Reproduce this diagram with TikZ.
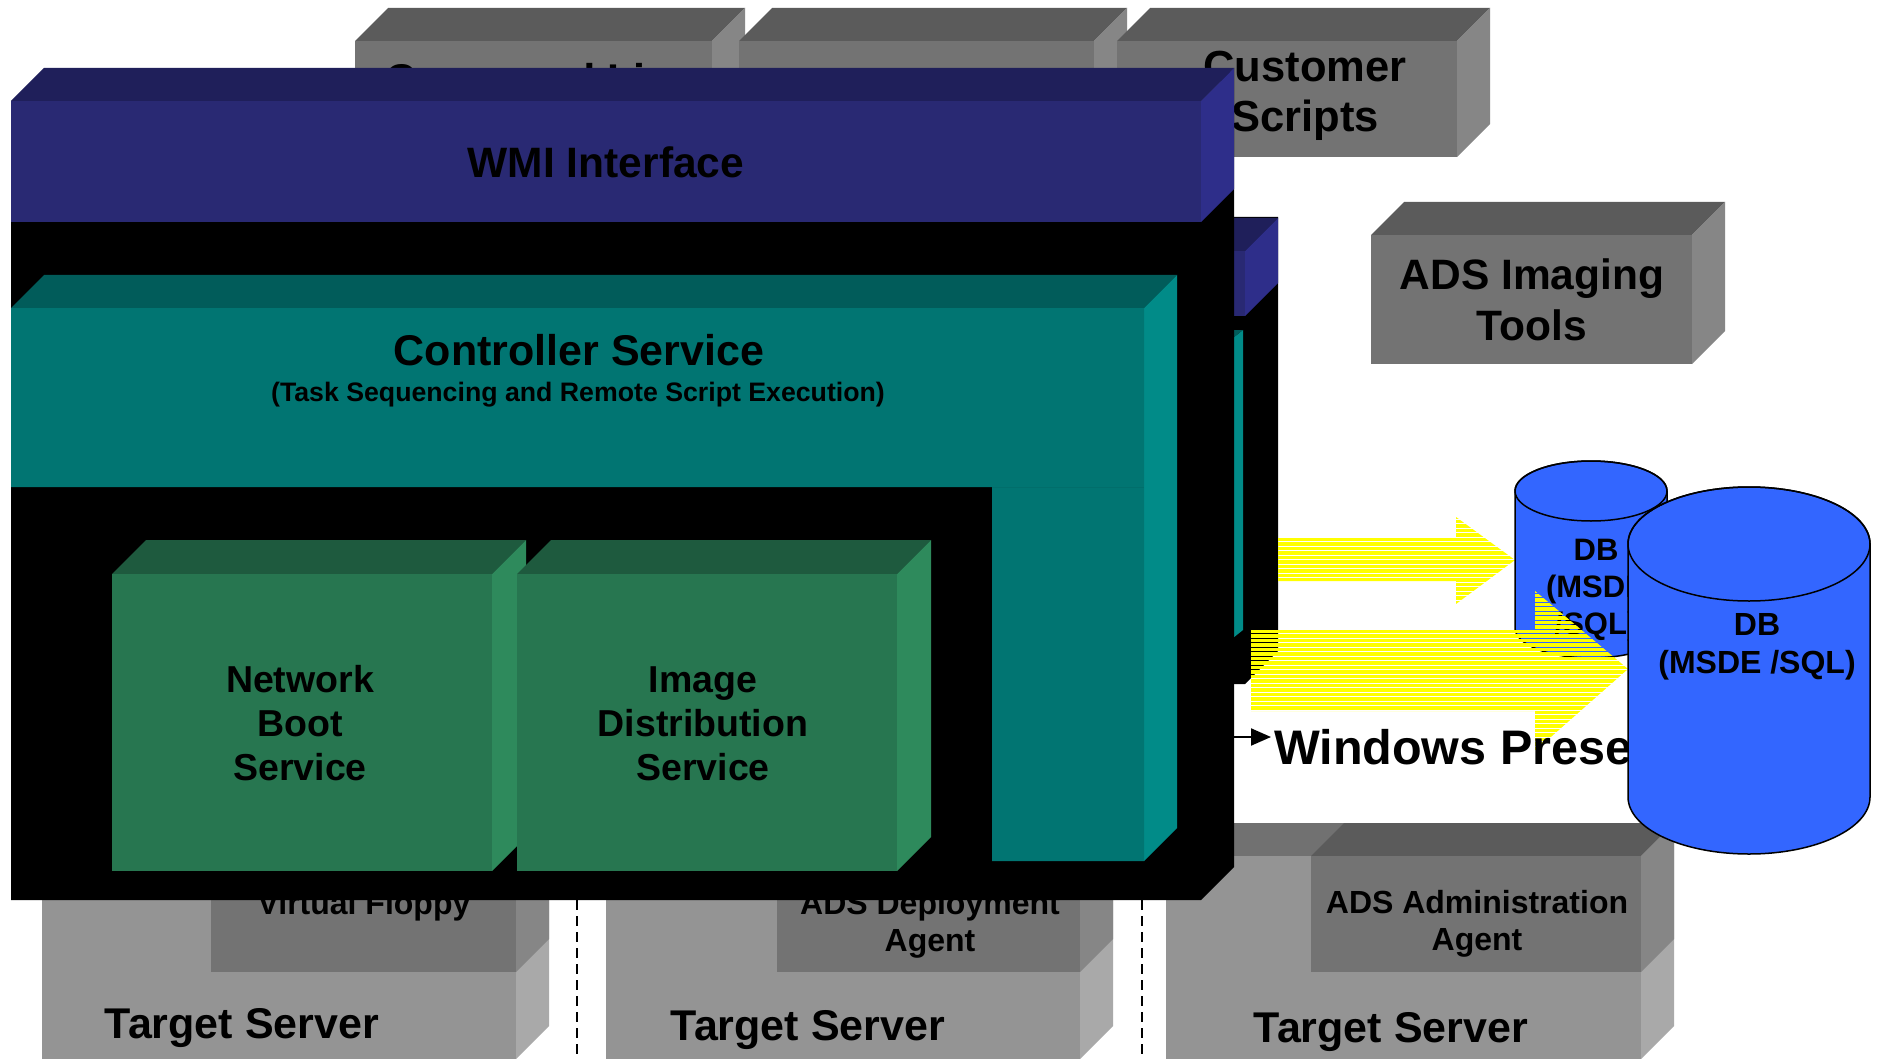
\documentclass[tikz,border=0pt]{standalone}
\usepackage{fontspec}
\setmainfont{Liberation Sans}
\usetikzlibrary{arrows.meta}
\definecolor{boxF}{HTML}{737373}
\definecolor{boxT}{HTML}{5B5B5B}
\definecolor{boxS}{HTML}{868686}
\definecolor{tsF}{HTML}{949494}
\definecolor{tsT}{HTML}{717171}
\definecolor{tsS}{HTML}{A9A9A9}
\definecolor{wmiF}{HTML}{292973}
\definecolor{wmiT}{HTML}{1F1F5A}
\definecolor{wmiS}{HTML}{2E2E8A}
\definecolor{tealF}{HTML}{017572}
\definecolor{tealT}{HTML}{015C5A}
\definecolor{tealS}{HTML}{018B88}
\definecolor{tealL}{HTML}{016E6B}
\definecolor{grnF}{HTML}{277650}
\definecolor{grnT}{HTML}{1E5A3E}
\definecolor{grnS}{HTML}{2E8A5C}
\definecolor{dbblue}{HTML}{3366FF}
\definecolor{ylw}{HTML}{FFFF00}
\newcommand\fsz[2]{\fontsize{#1}{#2}\selectfont}
\newcommand\ml[1]{\begin{tabular}[t]{@{}c@{}}#1\end{tabular}}
% 3D box: x1,y1,x2,y2 (front face), depth, front, top, side colours
\newcommand\cube[8]{%
  \fill[#7] (#1,#2) -- ({#1+#5},{#2-#5}) -- ({#3+#5},{#2-#5}) -- (#3,#2) -- cycle;
  \fill[#8] (#3,#2) -- ({#3+#5},{#2-#5}) -- ({#3+#5},{#4-#5}) -- (#3,#4) -- cycle;
  \fill[#6] (#1,#2) rectangle (#3,#4);}
% cylinder: cx, rx, y top centre, y bottom centre, ry
\newcommand\cyl[5]{%
  \filldraw[fill=dbblue, draw=black, line width=1.5pt]
    ({#1-#2},#3) -- ({#1-#2},#4)
    arc[start angle=180, end angle=360, x radius=#2pt, y radius=#5pt]
    -- ({#1+#2},#3)
    arc[start angle=0, end angle=180, x radius=#2pt, y radius=#5pt] -- cycle;
  \draw[black, line width=1.5pt] (#1,#3) ellipse[x radius=#2pt, y radius=#5pt];}
\begin{document}
\begin{tikzpicture}[x=1pt,y=-1pt,
  lbl/.style={inner sep=0pt, text=black},
  sepline/.style={draw=black, line width=2pt, dash pattern=on 10pt off 6pt}]
\useasboundingbox (0,0) rectangle (1881,1059);
\fill[white] (0,0) rectangle (1881,1059);

% ---------- top grey boxes ----------
\cube{355}{41}{712}{160}{33}{boxF}{boxT}{boxS}
\node[lbl, font=\fsz{43}{51}\bfseries, anchor=base west] (cmd) at (385,95) {Command Line};
\cube{739}{41}{1094}{157}{33}{boxF}{boxT}{boxS}
\cube{1117}{41}{1457}{157}{33}{boxF}{boxT}{boxS}
\node[lbl, font=\fsz{43.5}{50}\bfseries, anchor=base] (cust) at (1305,82) {\ml{Customer\\Scripts}};

% ---------- ADS Imaging Tools ----------
\cube{1371}{235}{1692}{364}{33}{boxF}{boxT}{boxS}
\node[lbl, font=\fsz{42.5}{51}\bfseries, anchor=base] (imag) at (1532,290) {\ml{ADS Imaging\\Tools}};

% ---------- target servers ----------
\cube{42}{856}{516}{1059}{33}{tsF}{tsT}{tsS}
\cube{211}{856}{516}{972}{33}{boxF}{boxT}{boxS}
\node[lbl, font=\fsz{32}{37}\bfseries, anchor=base] (vf) at (364,914) {Virtual Floppy};
\node[lbl, font=\fsz{43}{50}\bfseries, anchor=base] (ts1) at (242,1038) {Target Server};

\cube{606}{856}{1080}{1059}{33}{tsF}{tsT}{tsS}
\cube{777}{856}{1080}{972}{33}{boxF}{boxT}{boxS}
\node[lbl, font=\fsz{32}{37}\bfseries, anchor=base] (dep) at (930,914) {\ml{ADS Deployment\\Agent}};
\node[lbl, font=\fsz{43}{50}\bfseries, anchor=base] (ts2) at (808,1040) {Target Server};

\cube{1166}{856}{1641}{1059}{33}{tsF}{tsT}{tsS}
\cube{1311}{856}{1641}{972}{33}{boxF}{boxT}{boxS}
\node[lbl, font=\fsz{32}{37}\bfseries, anchor=base] (adm) at (1477,913) {\ml{ADS Administration\\Agent}};
\node[lbl, font=\fsz{43}{50}\bfseries, anchor=base] (ts3) at (1391,1042) {Target Server};

\coordinate (d1a) at (577,900); \coordinate (d1b) at (577,1059);
\coordinate (d2a) at (1142,900); \coordinate (d2b) at (1142,1059);
\draw[sepline] (d1a) -- (d1b);
\draw[sepline] (d2a) -- (d2b);

% ---------- back stack (second layer) ----------
\fill[black] (1200,250) -- (1233,217) -- (1278,217) -- (1278,651) -- (1245,684) -- (1200,684) -- cycle;
\fill[wmiT] (1200,251) -- (1233,218) -- (1278,218) -- (1245,251) -- cycle;
\fill[wmiS] (1245,251) -- (1278,218) -- (1278,283) -- (1245,316) -- cycle;
\fill[wmiF] (1200,251) rectangle (1245,316);
\fill[tealS] (1233,338) -- (1243,330) -- (1243,630) -- (1233,638) -- cycle;
\fill[tealT] (1233,330) -- (1243,330) -- (1233,338) -- cycle;

% ---------- yellow arrow 1 ----------
\begin{scope}
  \clip (1278,537) -- (1456,537) -- (1456,517) -- (1515,560) -- (1456,604) -- (1456,581) -- (1278,581) -- cycle;
  \foreach \yy in {515,519.5,...,608} {\fill[ylw] (1270,\yy) rectangle (1520,{\yy+3.6});}
\end{scope}

% ---------- small DB ----------
\cyl{1591}{76}{491}{628}{30}
\node[lbl, font=\fsz{31}{37}\bfseries, anchor=base] (db1) at (1596,560) {\ml{DB\\(MSDE\\/SQL)}};

% ---------- yellow arrow 2 ----------
\begin{scope}
  \clip (1251,630) -- (1535,630) -- (1535,591) -- (1628,669) -- (1535,751) -- (1535,711) -- (1251,711) -- cycle;
  \foreach \yy in {589,593.5,...,755} {\fill[ylw] (1245,\yy) rectangle (1635,{\yy+3.6});}
\end{scope}

% ---------- Windows text ----------
\node[lbl, font=\fsz{48.5}{56}\bfseries, anchor=base west] (win) at (1274,764) {Windows Prese};

% ---------- big DB ----------
\cyl{1749}{121}{544}{797}{57}
\node[lbl, font=\fsz{32}{38}\bfseries, anchor=base] (db2) at (1757,635) {\ml{DB\\(MSDE /SQL)}};

% ---------- main black box ----------
\fill[black] (11,101) -- (1201,101) -- (1234,68) -- (1234,867) -- (1201,900) -- (11,900) -- cycle;

% WMI interface
\cube{11}{101}{1201}{222}{33}{wmiF}{wmiT}{wmiS}
\node[lbl, font=\fsz{42.5}{50}\bfseries, anchor=base] (wmi) at (606,178) {WMI Interface};

% controller service (L shape)
\fill[tealT] (11,308) -- (44,275) -- (1177,275) -- (1144,308) -- cycle;
\fill[tealS] (1144,308) -- (1177,275) -- (1177,828) -- (1144,861) -- cycle;
\fill[tealF] (11,308) -- (1144,308) -- (1144,861) -- (992,861) -- (992,487) -- (11,487) -- cycle;
\draw[tealL, line width=1pt] (992,487) -- (1144,487);
\node[lbl, font=\fsz{43}{50}\bfseries, anchor=base] (ctl) at (579,365) {Controller Service};
\node[lbl, font=\fsz{26.7}{32}\bfseries, anchor=base] (ctlsub) at (578,401) {(Task Sequencing and Remote Script Execution)};

% green services
\cube{112}{574}{492}{871}{34}{grnF}{grnT}{grnS}
\cube{517}{574}{897}{871}{34}{grnF}{grnT}{grnS}
\node[lbl, font=\fsz{37.5}{44}\bfseries, anchor=base] (nbs) at (300,692) {\ml{Network\\Boot\\Service}};
\node[lbl, font=\fsz{37.5}{44}\bfseries, anchor=base] (ids) at (703,692) {\ml{Image\\Distribution\\Service}};

% small arrow to Windows text
\coordinate (wst) at (1233,737);
\draw[line width=2pt, -{Triangle[length=20pt,width=17pt]}, shorten >=3pt] (wst) -- (wst -| win.west);
\end{tikzpicture}
\end{document}
